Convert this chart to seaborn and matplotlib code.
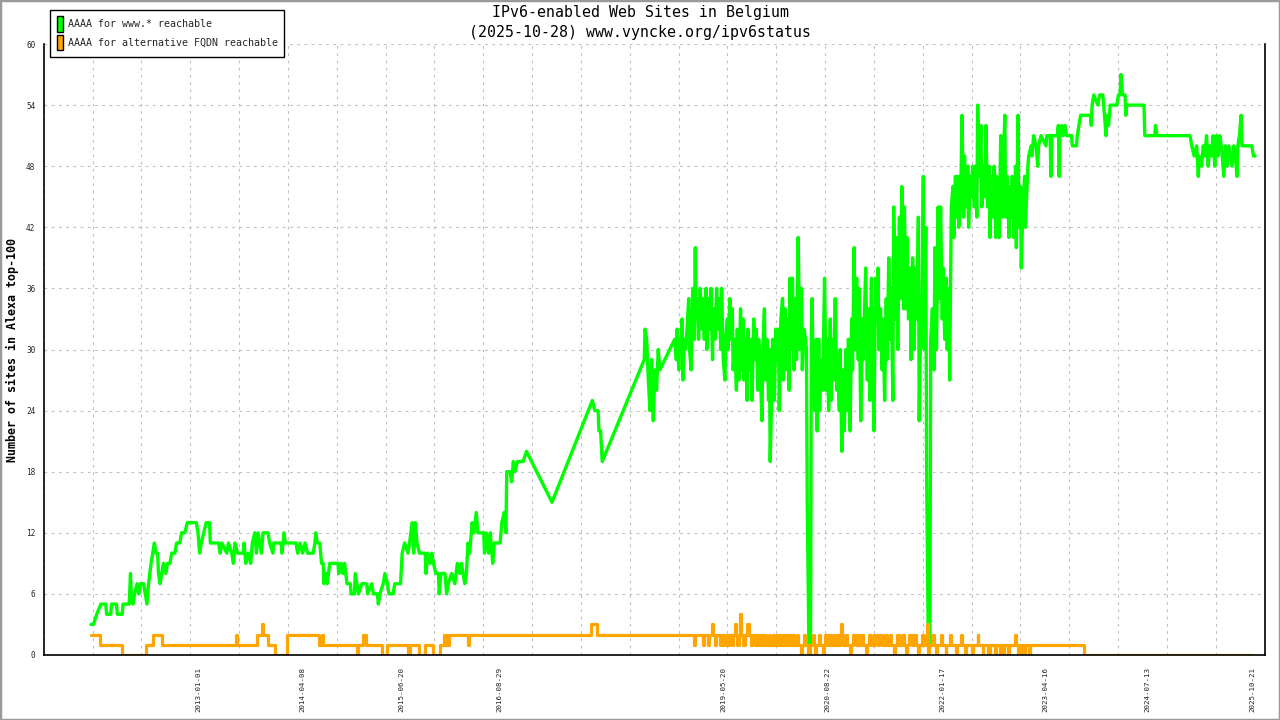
import numpy as np
import pandas as pd
import matplotlib
matplotlib.use("Agg")
import matplotlib.pyplot as plt
import seaborn as sns
from matplotlib.patches import Patch, Rectangle

# ---------------- text ----------------
title_line1 = "IPv6-enabled Web Sites in Belgium"
title_line2 = "(2025-10-28) www.vyncke.org/ipv6status"
y_label = "Number of sites in Alexa top-100"
series_names = ["AAAA for www.* reachable", "AAAA for alternative FQDN reachable"]
series_colors = ["#00ff00", "#ffa500"]

date_labels = ["2013-01-01", "2014-04-08", "2015-06-20", "2016-08-29", "2019-05-20",
               "2020-08-22", "2022-01-17", "2023-04-16", "2024-07-13", "2025-10-21"]
y_ticks = [0, 6, 12, 18, 24, 30, 36, 42, 48, 54, 60]

# ---------------- data (decimal years, counts) ----------------
www_year = [
    2011.70, 2011.73, 2011.77, 2011.82, 2011.88, 2011.89, 2011.94, 2011.95, 2012.01, 2012.02,
    2012.08, 2012.09, 2012.165, 2012.17, 2012.18, 2012.19, 2012.21, 2012.23, 2012.26, 2012.28,
    2012.30, 2012.34, 2012.36, 2012.38, 2012.40, 2012.43, 2012.45, 2012.47, 2012.49, 2012.51,
    2012.52, 2012.54, 2012.56, 2012.58, 2012.61, 2012.63, 2012.66, 2012.68, 2012.72, 2012.74,
    2012.78, 2012.80, 2012.84, 2012.87, 2012.98, 2013.00, 2013.02, 2013.04, 2013.07, 2013.10,
    2013.14, 2013.15, 2013.25, 2013.27, 2013.29, 2013.35, 2013.37, 2013.41, 2013.43, 2013.45,
    2013.48, 2013.55, 2013.56, 2013.58, 2013.61, 2013.64, 2013.66, 2013.69, 2013.71, 2013.73,
    2013.77, 2013.79, 2013.85, 2013.87, 2013.91, 2013.92, 2014.01, 2014.02, 2014.035, 2014.045,
    2014.06, 2014.19, 2014.21, 2014.24, 2014.27, 2014.30, 2014.33, 2014.40, 2014.42, 2014.43,
    2014.45, 2014.48, 2014.50, 2014.52, 2014.53, 2014.56, 2014.57, 2014.60, 2014.70, 2014.71,
    2014.74, 2014.76, 2014.78, 2014.81, 2014.85, 2014.86, 2014.90, 2014.91, 2014.93, 2014.95,
    2014.99, 2015.05, 2015.06, 2015.11, 2015.13, 2015.18, 2015.19, 2015.21, 2015.25, 2015.27,
    2015.30, 2015.32, 2015.37, 2015.39, 2015.46, 2015.48, 2015.51, 2015.55, 2015.57, 2015.60,
    2015.62, 2015.64, 2015.66, 2015.69, 2015.76, 2015.77, 2015.79, 2015.82, 2015.84, 2015.86,
    2015.89, 2015.92, 2015.93, 2015.95, 2016.00, 2016.02, 2016.04, 2016.08, 2016.12, 2016.15,
    2016.18, 2016.20, 2016.24, 2016.26, 2016.28, 2016.30, 2016.33, 2016.35, 2016.38, 2016.40,
    2016.47, 2016.48, 2016.50, 2016.53, 2016.55, 2016.58, 2016.60, 2016.67, 2016.69, 2016.72,
    2016.74, 2016.75, 2016.79, 2016.81, 2016.83, 2016.85, 2016.88, 2016.95, 2016.99, 2017.30,
    2017.79, 2017.82, 2017.86, 2017.87, 2017.89, 2017.91, 2018.42, 2018.43, 2018.45, 2018.47,
    2018.49, 2018.51, 2018.53, 2018.55, 2018.57, 2018.59, 2018.61, 2018.79,
    2018.81, 2018.82, 2018.84, 2018.85, 2018.87, 2018.88, 2018.89, 2018.91, 2018.92, 2018.94,
    2018.96, 2018.97, 2018.99, 2019.00, 2019.01, 2019.03, 2019.04, 2019.05, 2019.07, 2019.08,
    2019.10, 2019.12, 2019.13, 2019.15, 2019.17, 2019.18, 2019.20, 2019.21, 2019.23, 2019.25,
    2019.26, 2019.28, 2019.30, 2019.31, 2019.33, 2019.35, 2019.36, 2019.38, 2019.40, 2019.41,
    2019.43, 2019.44, 2019.46, 2019.47, 2019.49, 2019.50, 2019.52, 2019.54, 2019.55, 2019.57,
    2019.59, 2019.60, 2019.62, 2019.63, 2019.65, 2019.67, 2019.68, 2019.70, 2019.72, 2019.73,
    2019.75, 2019.76, 2019.78, 2019.80, 2019.81, 2019.83, 2019.85, 2019.86, 2019.88, 2019.89,
    2019.91, 2019.93, 2019.94, 2019.95, 2019.97, 2019.98, 2020.00, 2020.02, 2020.03, 2020.05,
    2020.06, 2020.08, 2020.10, 2020.11, 2020.13, 2020.15, 2020.16, 2020.18, 2020.19, 2020.21,
    2020.22, 2020.24, 2020.26, 2020.27, 2020.29, 2020.31, 2020.33, 2020.34, 2020.36, 2020.38,
    2020.39, 2020.40, 2020.42, 2020.44, 2020.45, 2020.46, 2020.47, 2020.49, 2020.51, 2020.52,
    2020.54, 2020.55, 2020.57, 2020.59, 2020.60, 2020.61, 2020.63, 2020.64, 2020.66, 2020.68,
    2020.69, 2020.71, 2020.72, 2020.74, 2020.76, 2020.77, 2020.79, 2020.80, 2020.82, 2020.84,
    2020.85, 2020.87, 2020.89, 2020.90, 2020.92, 2020.94, 2020.95, 2020.97, 2020.98, 2021.00,
    2021.02, 2021.03, 2021.05, 2021.07, 2021.08, 2021.10, 2021.11, 2021.13, 2021.14, 2021.16,
    2021.18, 2021.19, 2021.21, 2021.23, 2021.24, 2021.26, 2021.27, 2021.29, 2021.31, 2021.32,
    2021.34, 2021.36, 2021.37, 2021.39, 2021.41, 2021.42, 2021.44, 2021.45, 2021.47, 2021.48,
    2021.50, 2021.52, 2021.53, 2021.55, 2021.57, 2021.58, 2021.60, 2021.61, 2021.63, 2021.65,
    2021.66, 2021.68, 2021.70, 2021.71, 2021.73, 2021.75, 2021.76, 2021.78, 2021.79, 2021.81,
    2021.82, 2021.84, 2021.85, 2021.87, 2021.89, 2021.90, 2021.92, 2021.94, 2021.95, 2021.97,
    2021.99, 2022.00, 2022.02, 2022.04, 2022.05, 2022.07, 2022.09, 2022.10, 2022.12, 2022.13,
    2022.15, 2022.17, 2022.18, 2022.20, 2022.21, 2022.23, 2022.24,
    2022.26, 2022.27, 2022.28, 2022.30, 2022.31, 2022.33, 2022.35, 2022.36, 2022.38, 2022.39,
    2022.41, 2022.43, 2022.44, 2022.46, 2022.47, 2022.49, 2022.51, 2022.52, 2022.54, 2022.56,
    2022.57, 2022.59, 2022.61, 2022.62, 2022.64, 2022.66, 2022.67, 2022.69, 2022.70, 2022.72,
    2022.73, 2022.75, 2022.77, 2022.78, 2022.80, 2022.81, 2022.83, 2022.85, 2022.86, 2022.88,
    2022.89, 2022.91, 2022.93, 2022.94, 2022.96, 2022.97, 2022.99, 2023.00, 2023.02, 2023.04,
    2023.05, 2023.07, 2023.08, 2023.09, 2023.12, 2023.13, 2023.15, 2023.18, 2023.20, 2023.21,
    2023.24, 2023.30, 2023.31, 2023.35, 2023.36, 2023.37, 2023.44, 2023.45, 2023.46, 2023.47,
    2023.49, 2023.51, 2023.53, 2023.55, 2023.61, 2023.62, 2023.67, 2023.68, 2023.70, 2023.72,
    2023.84, 2023.85, 2023.86, 2023.88, 2023.93, 2023.95, 2023.99, 2024.00, 2024.03, 2024.04,
    2024.06, 2024.08, 2024.16, 2024.18, 2024.20, 2024.21, 2024.23, 2024.26, 2024.27, 2024.28,
    2024.49, 2024.50, 2024.62, 2024.63, 2024.65, 2025.05, 2025.07, 2025.10, 2025.13, 2025.15,
    2025.16, 2025.19, 2025.21, 2025.23, 2025.25, 2025.27, 2025.29, 2025.31, 2025.33, 2025.35,
    2025.37, 2025.39, 2025.41, 2025.43, 2025.45, 2025.46, 2025.48, 2025.50, 2025.52, 2025.54,
    2025.56, 2025.58, 2025.60, 2025.62, 2025.63, 2025.65, 2025.67, 2025.68, 2025.80, 2025.82,
    2025.84,
]
www_count = [
    3, 3, 4, 5, 5, 4, 4, 5, 5, 4,
    4, 5, 5, 6, 8, 6, 5, 6, 7, 6,
    7, 7, 6, 5, 7, 9, 10, 11, 10, 10,
    8, 7, 8, 9, 8, 9, 9, 10, 10, 11,
    11, 12, 12, 13, 13, 12, 10, 11, 12, 13,
    13, 11, 11, 10, 11, 10, 11, 10, 9, 11,
    10, 10, 11, 9, 10, 9, 11, 12, 10, 12,
    10, 12, 12, 11, 10, 11, 11, 10, 11, 12,
    11, 11, 10, 11, 10, 11, 10, 10, 11, 12,
    11, 11, 9, 9, 7, 8, 7, 9, 9, 8,
    9, 8, 9, 7, 7, 6, 6, 8, 7, 6,
    7, 7, 6, 7, 6, 6, 5, 6, 7, 8,
    7, 6, 6, 7, 7, 10, 11, 10, 11, 13,
    10, 13, 11, 10, 10, 8, 10, 9, 10, 9,
    8, 8, 6, 8, 8, 6, 7, 8, 7, 9,
    8, 9, 7, 8, 11, 10, 13, 12, 14, 12,
    12, 10, 12, 10, 12, 9, 11, 11, 13, 14,
    12, 18, 18, 17, 19, 18, 19, 19, 20, 15,
    25, 24, 24, 22, 22, 19, 29, 32, 31, 27,
    24, 29, 23, 28, 26, 30, 28, 31,
    29, 32, 28, 31, 30, 33, 27, 31, 30, 32,
    35, 30, 28, 33, 36, 31, 40, 33, 35, 31,
    36, 32, 35, 31, 36, 30, 35, 32, 36, 29,
    34, 31, 36, 32, 35, 30, 36, 29, 27, 31,
    33, 30, 35, 31, 34, 28, 31, 26, 32, 27,
    34, 28, 33, 27, 31, 25, 32, 28, 31, 25,
    33, 29, 32, 26, 31, 28, 23, 30, 34, 27,
    31, 25, 30, 19, 26, 31, 25, 32, 29, 32,
    24, 33, 35, 27, 34, 28, 33, 26, 37, 30,
    37, 28, 35, 29, 41, 30, 36, 28, 32, 31,
    30, 15, 1, 1, 32, 35, 28, 24, 31, 22,
    31, 24, 29, 26, 32, 37, 26, 31, 24, 33,
    25, 31, 27, 35, 26, 29, 24, 30, 20, 28,
    22, 30, 24, 31, 22, 33, 28, 40, 30, 37,
    29, 36, 23, 33, 29, 35, 38, 27, 34, 25,
    37, 30, 22, 37, 33, 38, 30, 34, 28, 33,
    25, 35, 29, 39, 31, 36, 25, 44, 33, 41,
    30, 43, 35, 46, 34, 44, 34, 41, 33, 38,
    29, 39, 30, 38, 33, 43, 23, 34, 31, 47,
    30, 42, 18, 1, 1, 31, 34, 28, 40, 30,
    44, 35, 44, 33, 38, 31, 37, 30, 36, 27,
    44, 46, 41, 47, 43, 47, 42,
    44, 48, 53, 43, 49, 44, 48, 42, 47, 45,
    48, 44, 48, 43, 54, 47, 52, 44, 48, 45,
    52, 44, 48, 41, 47, 43, 48, 41, 47, 44,
    41, 51, 43, 48, 53, 43, 47, 41, 46, 43,
    47, 41, 48, 40, 53, 42, 46, 38, 44, 47,
    42, 46, 48, 49, 50, 49, 51, 50, 48, 50,
    51, 50, 51, 51, 47, 51, 51, 52, 47, 51,
    52, 51, 52, 51, 51, 50, 50, 51, 52, 53,
    53, 52, 54, 55, 54, 55, 55, 54, 51, 53,
    52, 54, 54, 55, 55, 57, 55, 55, 53, 54,
    54, 51, 51, 52, 51, 51, 50, 49, 50, 47,
    49, 48, 50, 49, 51, 48, 50, 49, 51, 48,
    51, 49, 51, 50, 48, 47, 50, 48, 50, 49,
    48, 50, 49, 47, 50, 51, 53, 50, 50, 49,
    49,
]

alt_year = [
    2011.70, 2011.81, 2012.08, 2012.37, 2012.45, 2012.56, 2013.46, 2013.475, 2013.72, 2013.775,
    2013.79, 2013.855, 2013.94, 2014.08, 2014.465, 2014.51, 2014.52, 2014.935, 2014.945, 2015.005,
    2015.045, 2015.235, 2015.29, 2015.555, 2015.57, 2015.685, 2015.755, 2015.855, 2015.935, 2015.985,
    2016.00, 2016.015, 2016.03, 2016.045, 2016.28, 2016.29, 2017.775, 2017.845, 2019.03, 2019.04,
    2019.14, 2019.15, 2019.20, 2019.21, 2019.24, 2019.25, 2019.28, 2019.29, 2019.34, 2019.36,
    2019.38, 2019.40, 2019.43, 2019.45, 2019.49, 2019.50, 2019.52, 2019.53, 2019.55, 2019.57,
    2019.585, 2019.595, 2019.62, 2019.64, 2019.67, 2019.69, 2019.72, 2019.73, 2019.76, 2019.79,
    2019.81, 2019.84, 2019.86, 2019.88, 2019.90, 2019.93, 2019.95, 2019.98, 2020.00, 2020.02,
    2020.04, 2020.07, 2020.09, 2020.12, 2020.14, 2020.17, 2020.19, 2020.22, 2020.24, 2020.28,
    2020.29, 2020.33, 2020.34, 2020.36, 2020.37, 2020.41, 2020.43, 2020.47, 2020.48, 2020.50,
    2020.51, 2020.54, 2020.55, 2020.59, 2020.60, 2020.62, 2020.64, 2020.67, 2020.69, 2020.72,
    2020.73, 2020.75, 2020.77, 2020.80, 2020.815, 2020.825, 2020.84, 2020.87, 2020.88, 2020.92,
    2020.93, 2020.96, 2020.99, 2021.02, 2021.04, 2021.06, 2021.08, 2021.11, 2021.12, 2021.15,
    2021.17, 2021.21, 2021.25, 2021.27, 2021.31, 2021.34, 2021.37, 2021.40, 2021.42, 2021.45,
    2021.46, 2021.49, 2021.52, 2021.55, 2021.57, 2021.60, 2021.61, 2021.64, 2021.67, 2021.70,
    2021.72, 2021.75, 2021.76, 2021.79, 2021.81, 2021.84, 2021.855, 2021.865, 2021.87, 2021.88,
    2021.92, 2021.94, 2021.97, 2021.98, 2022.02, 2022.04, 2022.08, 2022.09, 2022.14, 2022.15,
    2022.21, 2022.22, 2022.27, 2022.28, 2022.32, 2022.33, 2022.40, 2022.41, 2022.47, 2022.48,
    2022.53, 2022.54, 2022.60, 2022.62, 2022.68, 2022.69, 2022.74, 2022.75, 2022.78, 2022.79,
    2022.84, 2022.85, 2022.92, 2022.93, 2022.96, 2022.97, 2023.01, 2023.02, 2023.04, 2023.05,
    2023.09, 2023.10, 2023.76, 2025.80,
]
alt_count = [
    2, 1, 0, 1, 2, 1, 2, 1, 2, 3,
    2, 1, 0, 2, 1, 2, 1, 0, 1, 2,
    1, 0, 1, 0, 1, 0, 1, 0, 1, 2,
    1, 2, 1, 2, 1, 2, 3, 2, 1, 2,
    1, 2, 1, 2, 3, 2, 1, 2, 1, 2,
    1, 2, 1, 2, 1, 2, 3, 2, 1, 2,
    4, 2, 1, 2, 3, 2, 1, 2, 1, 2,
    1, 2, 1, 2, 1, 2, 1, 2, 1, 2,
    1, 2, 1, 2, 1, 2, 1, 2, 1, 2,
    1, 0, 1, 2, 1, 0, 1, 2, 1, 0,
    1, 2, 1, 0, 1, 2, 1, 2, 1, 2,
    1, 2, 1, 2, 3, 2, 1, 2, 1, 0,
    1, 2, 1, 2, 1, 2, 1, 0, 1, 2,
    1, 2, 1, 2, 1, 2, 1, 2, 1, 0,
    1, 2, 1, 2, 1, 0, 1, 2, 1, 2,
    1, 0, 1, 2, 1, 2, 3, 1, 0, 1,
    2, 1, 0, 1, 2, 1, 0, 1, 2, 1,
    0, 1, 2, 1, 0, 1, 0, 1, 2, 1,
    0, 1, 0, 1, 0, 1, 0, 1, 0, 1,
    0, 1, 2, 1, 0, 1, 0, 1, 0, 1,
    0, 1, 0, 0,
]

www_df = pd.DataFrame({"year": www_year, "count": www_count})
alt_df = pd.DataFrame({"year": alt_year, "count": alt_count})

# ---------------- figure ----------------
sns.set_theme(style="white")
mono = ["DejaVu Sans Mono", "Liberation Mono"]
plt.rcParams["font.family"] = mono

fig = plt.figure(figsize=(12.8, 7.2), dpi=100)
fig.patch.set_facecolor("white")
ax = fig.add_axes([43.7 / 1280, 1 - 655 / 720, (1264.5 - 43.7) / 1280, (655 - 44) / 720])
ax.set_facecolor("white")

sns.lineplot(data=www_df, x="year", y="count", ax=ax, color=series_colors[0],
             linewidth=2.4, estimator=None, sort=False, legend=False)
sns.lineplot(data=alt_df, x="year", y="count", ax=ax, color=series_colors[1],
             linewidth=2.3, estimator=None, sort=False, legend=False,
             drawstyle="steps-post")

xmin, xmax = 2011.126, 2025.954
ax.set_xlim(xmin, xmax)
ax.set_ylim(0, 60)

# major ticks: evenly spaced, unlabeled, with grid
ax.set_xticks(np.linspace(xmin, xmax, 26))
ax.set_xticklabels([])
# labels at specific dates
lab_dt = pd.to_datetime(date_labels)
lab_pos = [d.year + (d.dayofyear - 1) / (366 if d.is_leap_year else 365) for d in lab_dt]
ax.set_xticks(lab_pos, minor=True)
ax.set_xticklabels(date_labels, minor=True, rotation=90, fontsize=5.4, family=mono)
ax.tick_params(axis="x", which="minor", length=0, pad=8.5)
ax.tick_params(axis="x", which="major", direction="inout", length=8, width=1, color="black")

ax.set_yticks(y_ticks)
ax.set_yticklabels([str(v) for v in y_ticks], fontsize=5.6, family=mono)
ax.tick_params(axis="y", which="major", direction="inout", length=8, width=1,
               color="black", pad=2)

ax.grid(True, which="major", color="#c0c0c0", linestyle=(0, (2.5, 4)), linewidth=0.8)
ax.set_axisbelow(True)
ax.set_xlabel("")
ax.set_ylabel("")

for side in ["left", "bottom", "right"]:
    ax.spines[side].set_visible(True)
    ax.spines[side].set_color("black")
    ax.spines[side].set_linewidth(1.2)
ax.spines["top"].set_visible(False)

# titles
fig.text(640 / 1280, 1 - 13 / 720, title_line1, ha="center", va="center",
         fontsize=10.7, family=mono, color="black")
fig.text(640 / 1280, 1 - 32 / 720, title_line2, ha="center", va="center",
         fontsize=10.7, family=mono, color="black")
fig.text(12 / 1280, 1 - 350 / 720, y_label, ha="center", va="center", rotation=90,
         fontsize=8.4, fontweight="bold", family=mono, color="black")

# legend
handles = [Patch(facecolor=c, edgecolor="black", linewidth=1) for c in series_colors]
leg = fig.legend(handles, series_names, loc="upper left",
                 bbox_to_anchor=(50 / 1280, 1 - 10 / 720), bbox_transform=fig.transFigure,
                 prop={"family": mono, "size": 7.2}, frameon=True, fancybox=False,
                 framealpha=1, edgecolor="black", borderaxespad=0, borderpad=0.65,
                 handlelength=0.65, handleheight=2.0, handletextpad=0.45,
                 labelspacing=0.3)
leg.get_frame().set_linewidth(1.0)

# outer gray border
fig.add_artist(Rectangle((0, 0), 1, 1, transform=fig.transFigure, fill=False,
                         edgecolor="#9a9a9a", linewidth=2.5))

fig.savefig("out.png", dpi=100)
